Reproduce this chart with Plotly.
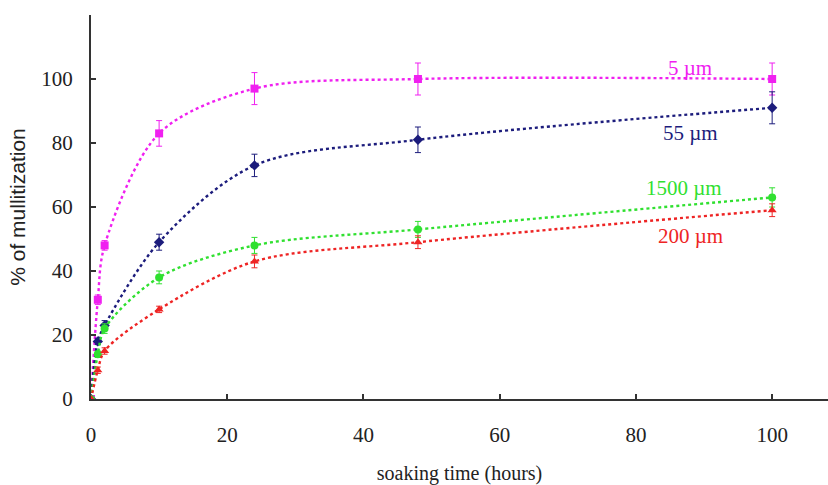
import plotly.graph_objects as go

# Soaking times (hours)
hours = [0, 1, 2, 10, 24, 48, 100]

# Mullitization (%) for each powder particle size
mull_5um = [0, 31, 48, 83, 97, 100, 100]
mull_55um = [0, 18, 23, 49, 73, 81, 91]
mull_1500um = [0, 14, 22, 38, 48, 53, 63]
mull_200um = [0, 9, 15, 28, 43, 49, 59]

# Standard deviations
err_5um = [0, 1.5, 1.5, 4, 5, 5, 5]
err_55um = [0, 1, 1.5, 2.5, 3.5, 4, 5]
err_1500um = [0, 1, 1.5, 2, 2.5, 2.5, 3]
err_200um = [0, 1, 1, 1, 2, 2, 2]

series = [
    ("5 µm", mull_5um, err_5um, "#f020f0", "square", 8),
    ("55 µm", mull_55um, err_55um, "#1c1c7c", "diamond", 8),
    ("1500 µm", mull_1500um, err_1500um, "#30e030", "circle", 8),
    ("200 µm", mull_200um, err_200um, "#ee2424", "triangle-up", 8),
]

# Series labels placed next to the curves
label_x = [88, 88, 87, 88]
label_y = [103.5, 83, 66, 51]

fig = go.Figure()
for name, vals, errs, color, sym, size in series:
    fig.add_trace(go.Scatter(
        x=hours, y=vals, name=name, mode="lines+markers",
        line=dict(color=color, width=2.4, dash="dot", shape="spline", smoothing=0.9),
        marker=dict(symbol=sym, size=size, color=color),
        error_y=dict(type="data", array=errs, visible=True, color=color,
                     thickness=1, width=3),
        showlegend=False,
    ))

for (name, vals, errs, color, sym, size), lx, ly in zip(series, label_x, label_y):
    fig.add_annotation(x=lx, y=ly, text=name, showarrow=False,
                       font=dict(family="Liberation Serif", size=21, color=color),
                       xanchor="center", yanchor="middle")

tick_font = dict(family="Liberation Serif", size=21, color="#222")

fig.update_layout(
    width=828, height=485,
    margin=dict(l=91, r=0, t=15, b=86),
    paper_bgcolor="white", plot_bgcolor="white",
    font=tick_font,
    xaxis=dict(
        range=[0, 108.2], tickvals=[0, 20, 40, 60, 80, 100],
        tickfont=tick_font,
        showgrid=False, zeroline=False,
        showline=True, linecolor="#333", linewidth=2,
        ticks="inside", ticklen=5, tickwidth=1.5, tickcolor="#333",
        ticklabelstandoff=16,
        title=dict(text="soaking time (hours)",
                   font=dict(family="Liberation Serif", size=20, color="#222"),
                   standoff=20),
    ),
    yaxis=dict(
        range=[0, 120], tickvals=[0, 20, 40, 60, 80, 100, 120],
        ticktext=["0", "20", "40", "60", "80", "100", ""],
        tickfont=tick_font,
        showgrid=False, zeroline=False,
        showline=True, linecolor="#333", linewidth=2,
        ticks="inside", ticklen=5, tickwidth=1.5, tickcolor="#333",
        ticklabelstandoff=12,
        title=dict(text="% of mullitization",
                   font=dict(family="Liberation Sans", size=21, color="#222"),
                   standoff=10),
    ),
)

fig.write_html("out.html")
